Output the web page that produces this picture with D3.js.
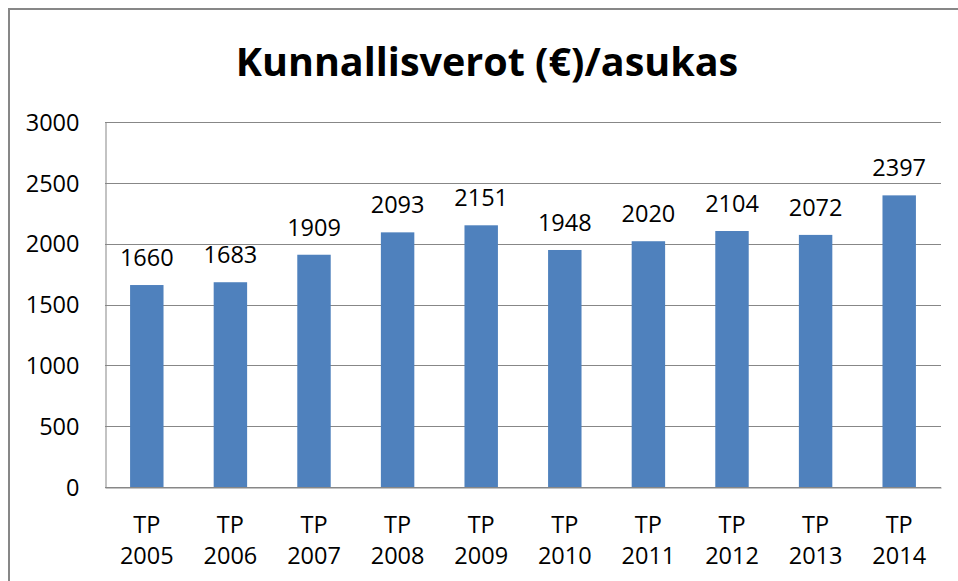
<!DOCTYPE html>
<html>
<head>
<meta charset="utf-8">
<script src="https://cdn.jsdelivr.net/npm/d3@7"></script>
<style>
  body { margin: 0; background: #fff; overflow: hidden; }
  text { font-family: "Open Sans", sans-serif; fill: #000; }
</style>
</head>
<body>
<div id="chart"></div>
<script>
const years = ["2005", "2006", "2007", "2008", "2009", "2010", "2011", "2012", "2013", "2014"];
const values = [1660, 1683, 1909, 2093, 2151, 1948, 2020, 2104, 2072, 2397];
const yTicks = [0, 500, 1000, 1500, 2000, 2500, 3000];
const title = "Kunnallisverot (€)/asukas";

const width = 958, height = 581;
const margin = {top: 122, right: 17, bottom: 94, left: 105};
const innerWidth = width - margin.left - margin.right;
const innerHeight = height - margin.top - margin.bottom;

const svg = d3.select("#chart")
    .append("svg")
    .attr("width", width)
    .attr("height", height)
    .style("display", "block");

// outer chart border, only the left and top edges are in the picture
svg.append("path")
    .attr("d", `M9,${height} V9 H${width}`)
    .attr("fill", "none")
    .attr("stroke", "#878787")
    .attr("stroke-width", 2);

svg.append("text")
    .text(title)
    .attr("x", 487)
    .attr("y", 76)
    .attr("text-anchor", "middle")
    .attr("font-weight", "bold")
    .attr("font-size", 39.5);

const innerChart = svg.append("g")
    .attr("transform", `translate(${margin.left}, ${margin.top})`);

const xScale = d3.scaleBand()
    .domain(years)
    .range([0, innerWidth])
    .paddingInner(0.6)
    .paddingOuter(0.3);

const yScale = d3.scaleLinear()
    .domain([0, 3000])
    .range([innerHeight, 0]);

//gridlines
innerChart.append("g")
    .selectAll("line")
    .data(yTicks)
    .join("line")
    .attr("x1", 0)
    .attr("x2", innerWidth)
    .attr("y1", d => Math.round(yScale(d)) + 0.5)
    .attr("y2", d => Math.round(yScale(d)) + 0.5)
    .attr("stroke", "#878787")
    .attr("stroke-width", 1);

//bars
innerChart.append("g")
    .selectAll("rect")
    .data(values)
    .join("rect")
    .attr("x", (d, i) => xScale(years[i]))
    .attr("y", d => yScale(d))
    .attr("width", xScale.bandwidth())
    .attr("height", d => innerHeight - yScale(d))
    .attr("fill", "#4F81BD");

//value labels
innerChart.append("g")
    .selectAll("text")
    .data(values)
    .join("text")
    .text(d => d)
    .attr("x", (d, i) => xScale(years[i]) + xScale.bandwidth() / 2)
    .attr("y", d => yScale(d) - 19)
    .attr("text-anchor", "middle")
    .attr("font-size", 23.5);

//left axis
const leftAxis = d3.axisLeft(yScale)
    .tickValues(yTicks)
    .tickFormat(d3.format("d"))
    .tickSize(0)
    .tickPadding(26);

const gy = innerChart.append("g")
    .attr("transform", "translate(0.5, 0)")
    .call(leftAxis);
gy.select(".domain").attr("stroke", "#878787");
gy.selectAll("text")
    .attr("font-family", "Open Sans")
    .attr("font-size", 23.5)
    .attr("fill", "#000")
    .attr("dy", "0.35em");

//bottom axis with two-line labels
const bottomAxis = d3.axisBottom(xScale)
    .tickSize(0)
    .tickFormat(() => "");

const gx = innerChart.append("g")
    .attr("transform", `translate(0, ${Math.round(innerHeight) + 0.5})`)
    .call(bottomAxis);
gx.select(".domain").attr("stroke", "#878787");

gx.selectAll(".tick")
    .append("text")
    .attr("text-anchor", "middle")
    .attr("font-size", 23.5)
    .each(function(d) {
        const t = d3.select(this);
        t.append("tspan").attr("x", 0).attr("y", 45).text("TP");
        t.append("tspan").attr("x", 0).attr("y", 76).text(d);
    });
</script>
</body>
</html>
